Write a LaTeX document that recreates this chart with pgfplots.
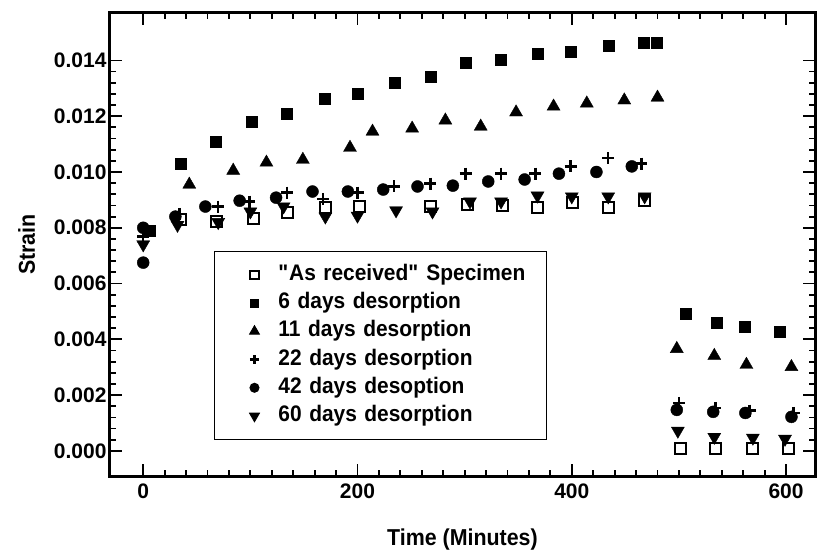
\documentclass[border=0pt]{standalone}
\usepackage{fontspec}
\setmainfont{Liberation Sans}
\newfontfamily\condfont{Liberation Sans}[FakeStretch=0.93]
\usepackage{pgfplots}
\usepackage{pgfplotstable}
\pgfplotsset{compat=1.18}

% as received (open square)
\pgfplotstableread{
x y
35 0.00829
68 0.00822
103 0.00833
135 0.00854
170 0.00872
202 0.00876
268 0.00876
303 0.00883
335 0.00880
368 0.00872
401 0.00890
434 0.00872
468 0.00897
501 0.0001
534 0.0001
569 0.0001
602 0.0001
}\asrec
% 6 days
\pgfplotstableread{
x y
6 0.0079
35 0.0103
68 0.0111
101 0.0118
134 0.0121
169 0.01263
200 0.0128
235 0.0132
268 0.01342
301 0.01392
334 0.01403
368 0.01424
399 0.01433
434 0.01454
467 0.01464
479 0.01464
506 0.00491
535 0.0046
561 0.00446
594 0.00428
}\six
% 11 days
\pgfplotstableread{
x y
43 0.00955
84 0.01005
115 0.01034
149 0.01044
193 0.01087
214 0.01145
251 0.01156
282 0.01185
315 0.01163
348 0.01214
383 0.01235
414 0.01246
449 0.01257
480 0.01267
498 0.00366
533 0.00341
563 0.00309
605 0.00301
}\eleven
% 22 days
\pgfplotstableread{
x y
0 0.00768
34 0.0085
70 0.00876
99 0.00894
134 0.00926
168 0.00904
200 0.00926
234 0.00948
268 0.00958
301 0.00994
334 0.00994
366 0.00994
399 0.0102
434 0.0105
465 0.0103
500 0.00172
534 0.00154
566 0.00144
607 0.00136
}\twentytwo
% 42 days
\pgfplotstableread{
x y
0 0.0080
0 0.00675
30 0.0084
58 0.00876
90 0.00897
124 0.00908
158 0.0093
191 0.0093
224 0.00937
256 0.00948
289 0.00951
322 0.00966
356 0.00973
388 0.00994
423 0.0100
456 0.0102
498 0.00147
532 0.0014
562 0.00136
605 0.00122
}\fortytwo
% 60 days
\pgfplotstableread{
x y
0 0.0074
32 0.0081
70 0.0082
100 0.00858
131 0.00876
170 0.0084
200 0.00843
236 0.00862
270 0.00858
305 0.00894
334 0.00894
368 0.00915
400 0.00912
434 0.00912
468 0.00912
499 0.00072
533 0.0005
569 0.00047
599 0.00043
}\sixty

\begin{document}
\begin{tikzpicture}
\begin{axis}[
  scale only axis,
  width=705pt, height=463pt,
  xmin=-31, xmax=627,
  ymin=-0.0009, ymax=0.0157,
  xtick={0,200,400,600},
  minor x tick num=9,
  ytick={0,0.002,0.004,0.006,0.008,0.010,0.012,0.014},
  minor y tick num=4,
  tick align=inside,
  tick pos=both,
  major tick length=12pt,
  minor tick length=6pt,
  every tick/.append style={black, line width=1.8pt},
  axis line style={line width=3pt},
  scaled y ticks=false,
  yticklabel style={/pgf/number format/.cd, fixed, fixed zerofill, precision=3},
  /pgf/number format/assume math mode=true,
  ticklabel style={font=\fontsize{21}{25}\selectfont\bfseries},
  xticklabel style={yshift=-4pt},
  label style={font=\condfont\fontsize{23}{27}\selectfont\bfseries},
  xlabel={Time (Minutes)},
  ylabel={Strain},
  xlabel style={yshift=-24pt},
  ylabel style={yshift=12pt},
  legend style={at={(rel axis cs:0.1475,0.486)}, anchor=north west,
    draw=black, line width=1pt,
    font=\condfont\fontsize{22.5}{26}\selectfont\bfseries,
    inner xsep=0pt, inner ysep=11pt, row sep=3.2pt,
    nodes={inner sep=2pt, text height=16pt, text depth=5pt},
    /tikz/every even column/.append style={text width=266pt}},
  legend cell align=left,
  legend image code/.code={%
    \path[draw=none] (0pt,0pt) -- (62pt,0pt);
    \draw[#1, every mark/.append style={scale=0.75}] plot coordinates {(40pt,0pt)};},
  every axis plot/.append style={only marks, black},
]
\addplot[mark=square, mark size=5.5pt, mark options={line width=2pt}] table {\asrec};
\addlegendentry{\textquotedbl As received\textquotedbl{} Specimen}
\addplot[mark=square*, mark size=5.5pt] table {\six};
\addlegendentry{6 days desorption}
\addplot[mark=triangle*, mark size=7.5pt] table {\eleven};
\addlegendentry{11 days desorption}
\addplot[mark=+, mark size=6pt, mark options={line width=2.5pt}] table {\twentytwo};
\addlegendentry{22 days desorption}
\addplot[mark=*, mark size=6pt] table {\fortytwo};
\addlegendentry{42 days desoption}
\addplot[mark=triangle*, mark size=7.5pt, mark options={rotate=180}] table {\sixty};
\addlegendentry{60 days desorption}
\end{axis}
\useasboundingbox ([xshift=-110pt,yshift=-74pt]current axis.south west)
  rectangle ([xshift=7pt,yshift=13pt]current axis.north east);
\end{tikzpicture}
\end{document}
